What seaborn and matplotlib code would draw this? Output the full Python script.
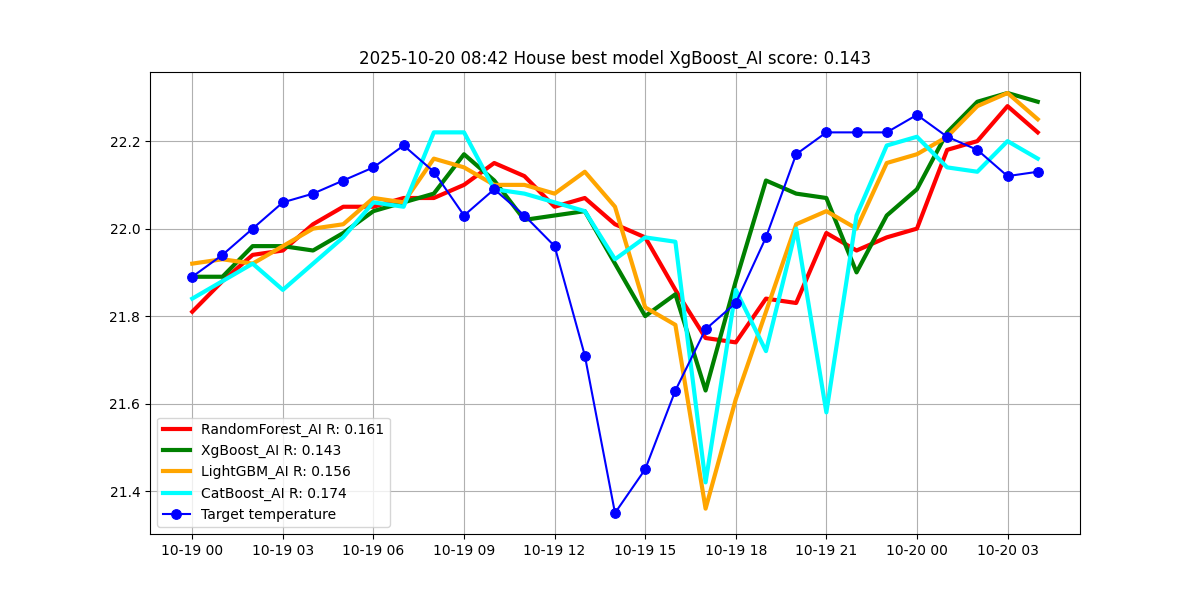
import matplotlib
matplotlib.use("Agg")
import matplotlib.pyplot as plt
import matplotlib.dates as mdates
import pandas as pd
import seaborn as sns

times = pd.date_range("2025-10-19 00:00", periods=29, freq="h")

random_forest = [21.81, 21.88, 21.94, 21.95, 22.01, 22.05, 22.05, 22.07, 22.07, 22.10,
                 22.15, 22.12, 22.05, 22.07, 22.01, 21.98, 21.86, 21.75, 21.74, 21.84,
                 21.83, 21.99, 21.95, 21.98, 22.00, 22.18, 22.20, 22.28, 22.22]
xgboost = [21.89, 21.89, 21.96, 21.96, 21.95, 21.99, 22.04, 22.06, 22.08, 22.17,
           22.11, 22.02, 22.03, 22.04, 21.92, 21.80, 21.85, 21.63, 21.88, 22.11,
           22.08, 22.07, 21.90, 22.03, 22.09, 22.22, 22.29, 22.31, 22.29]
lightgbm = [21.92, 21.93, 21.92, 21.96, 22.00, 22.01, 22.07, 22.06, 22.16, 22.14,
            22.10, 22.10, 22.08, 22.13, 22.05, 21.82, 21.78, 21.36, 21.61, 21.81,
            22.01, 22.04, 22.00, 22.15, 22.17, 22.21, 22.28, 22.31, 22.25]
catboost = [21.84, 21.88, 21.92, 21.86, 21.92, 21.98, 22.06, 22.05, 22.22, 22.22,
            22.09, 22.08, 22.06, 22.04, 21.93, 21.98, 21.97, 21.42, 21.86, 21.72,
            22.00, 21.58, 22.03, 22.19, 22.21, 22.14, 22.13, 22.20, 22.16]
target = [21.89, 21.94, 22.00, 22.06, 22.08, 22.11, 22.14, 22.19, 22.13, 22.03,
          22.09, 22.03, 21.96, 21.71, 21.35, 21.45, 21.63, 21.77, 21.83, 21.98,
          22.17, 22.22, 22.22, 22.22, 22.26, 22.21, 22.18, 22.12, 22.13]

models = [
    ("RandomForest_AI R: 0.161", random_forest, "red"),
    ("XgBoost_AI R: 0.143", xgboost, "green"),
    ("LightGBM_AI R: 0.156", lightgbm, "orange"),
    ("CatBoost_AI R: 0.174", catboost, "cyan"),
]

fig, ax = plt.subplots(figsize=(12, 6), dpi=100)

for label, vals, col in models:
    sns.lineplot(x=times, y=vals, ax=ax, color=col, linewidth=3, label=label)
sns.lineplot(x=times, y=target, ax=ax, color="blue", linewidth=1.5, marker="o",
             markersize=7, markeredgecolor="blue", label="Target temperature")

ax.xaxis.set_major_locator(mdates.HourLocator(byhour=range(0, 24, 3)))
ax.xaxis.set_major_formatter(mdates.DateFormatter("%m-%d %H"))
ax.grid(True)
ax.set_xlabel("")
ax.set_ylabel("")
ax.set_title("2025-10-20 08:42 House best model XgBoost_AI score: 0.143")
ax.legend(loc="lower left")

plt.savefig("out.png")
